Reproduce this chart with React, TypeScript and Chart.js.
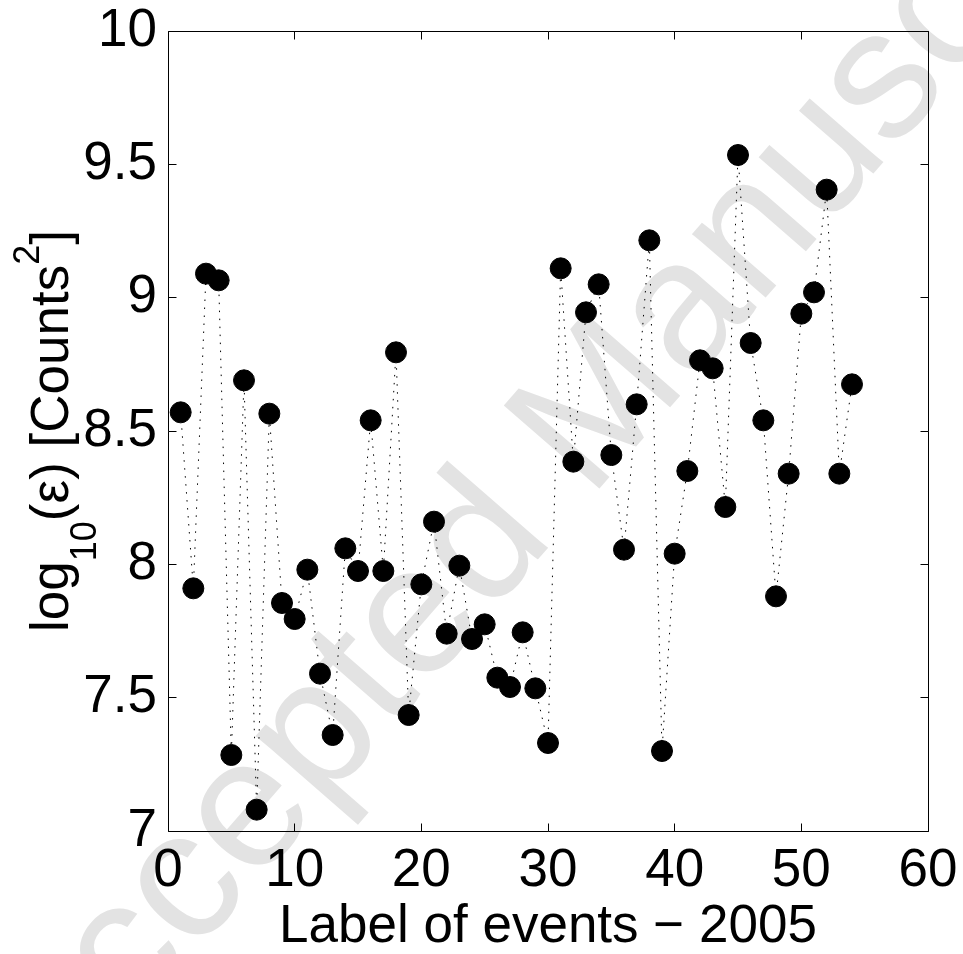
import React, { useEffect, useRef } from 'react';
import { Chart, registerables } from 'chart.js';

Chart.register(...registerables);

const FONT = '"Liberation Sans", Arial, Helvetica, sans-serif';

// Event label (x) and log10(epsilon) (y)
const eventLabel = [
  1, 2, 3, 4, 5, 6, 7, 8, 9, 10,
  11, 12, 13, 14, 15, 16, 17, 18, 19, 20,
  21, 22, 23, 24, 25, 26, 27, 28, 29, 30,
  31, 32, 33, 34, 35, 36, 37, 38, 39, 40,
  41, 42, 43, 44, 45, 46, 47, 48, 49, 50,
  51, 52, 53, 54,
];
const logEpsilon = [
  8.57, 7.91, 9.09, 9.065, 7.285, 8.69, 7.08, 8.565, 7.855, 7.795,
  7.98, 7.59, 7.36, 8.06, 7.975, 8.54, 7.975, 8.795, 7.435, 7.925,
  8.16, 7.74, 7.995, 7.72, 7.775, 7.575, 7.54, 7.745, 7.535, 7.33,
  9.11, 8.385, 8.945, 9.05, 8.41, 8.055, 8.6, 9.215, 7.3, 8.04,
  8.35, 8.765, 8.735, 8.215, 9.535, 8.83, 8.54, 7.88, 8.34, 8.94,
  9.02, 9.405, 8.34, 8.675,
];
const xTickValues = [0, 10, 20, 30, 40, 50, 60];
const yTickValues = [7, 7.5, 8, 8.5, 9, 9.5, 10];
const xTitle = 'Label of events \u2212 2005';
const yTitleParts = [
  { text: 'log', kind: 'main' },
  { text: '10', kind: 'sub' },
  { text: '(\u03b5) [Counts', kind: 'main' },
  { text: '2', kind: 'sup' },
  { text: ']', kind: 'main' },
];
const watermarkText = 'Accepted Manuscript';

const decorPlugin = {
  id: 'decor',
  beforeDraw(chart: any) {
    const { ctx, width, height } = chart;
    ctx.save();
    ctx.fillStyle = '#ffffff';
    ctx.fillRect(0, 0, width, height);
    ctx.translate(578, 436);
    ctx.rotate((-49 * Math.PI) / 180);
    ctx.font = `184px ${FONT}`;
    ctx.fillStyle = '#e3e3e3';
    ctx.textAlign = 'center';
    ctx.textBaseline = 'middle';
    ctx.fillText(watermarkText, 0, 0);
    ctx.restore();
  },
  afterDatasetsDraw(chart: any) {
    const { ctx, chartArea: a, scales } = chart;
    const px = (v: number) => Math.floor(v) + 0.5;
    const L = px(a.left), R = px(a.right), T = px(a.top), B = px(a.bottom);
    ctx.save();
    ctx.strokeStyle = '#000';
    ctx.lineWidth = 1;
    ctx.setLineDash([]);
    ctx.beginPath();
    ctx.rect(L, T, R - L, B - T);
    const tl = 8;
    xTickValues.forEach((v) => {
      const x = px(scales.x.getPixelForValue(v));
      ctx.moveTo(x, B); ctx.lineTo(x, B - tl);
      ctx.moveTo(x, T); ctx.lineTo(x, T + tl);
    });
    yTickValues.forEach((v) => {
      const y = px(scales.y.getPixelForValue(v));
      ctx.moveTo(L, y); ctx.lineTo(L + tl, y);
      ctx.moveTo(R, y); ctx.lineTo(R - tl, y);
    });
    ctx.stroke();
    ctx.restore();
  },
  afterDraw(chart: any) {
    const { ctx, chartArea: a } = chart;
    ctx.save();
    ctx.fillStyle = '#000';
    ctx.font = `53px ${FONT}`;
    ctx.textAlign = 'center';
    ctx.textBaseline = 'alphabetic';
    ctx.fillText(xTitle, (a.left + a.right) / 2, 942);

    const mainFont = `53px ${FONT}`;
    const smallFont = `36px ${FONT}`;
    let total = 0;
    const widths = yTitleParts.map((p) => {
      ctx.font = p.kind === 'main' ? mainFont : smallFont;
      const w = ctx.measureText(p.text).width;
      total += w;
      return w;
    });
    ctx.translate(68, (a.top + a.bottom) / 2);
    ctx.rotate(-Math.PI / 2);
    ctx.textAlign = 'left';
    let u = -total / 2;
    yTitleParts.forEach((p, i) => {
      ctx.font = p.kind === 'main' ? mainFont : smallFont;
      const dy = p.kind === 'sub' ? 28 : p.kind === 'sup' ? -29 : 0;
      ctx.fillText(p.text, u, dy);
      u += widths[i];
    });
    ctx.restore();
  },
};

export default function App() {
  const ref = useRef<HTMLCanvasElement>(null);
  useEffect(() => {
    const canvas = ref.current;
    if (!canvas) return;
    const chart = new Chart(canvas, {
      type: 'scatter',
      data: {
        datasets: [
          {
            data: eventLabel.map((x, i) => ({ x, y: logEpsilon[i] })),
            showLine: true,
            borderColor: '#000',
            borderWidth: 1,
            borderDash: [1.5, 6.5],
            pointRadius: 10.5,
            pointBackgroundColor: '#000',
            pointBorderColor: '#000',
            pointBorderWidth: 1,
            tension: 0,
          },
        ],
      },
      options: {
        responsive: false,
        animation: false,
        devicePixelRatio: 1,
        events: [],
        layout: { padding: { top: 31, right: 35, left: 0, bottom: 0 } },
        plugins: { legend: { display: false }, tooltip: { enabled: false } },
        scales: {
          x: {
            type: 'linear',
            min: 0,
            max: 60,
            afterBuildTicks: (s: any) => {
              s.ticks = xTickValues.map((v) => ({ value: v }));
            },
            afterFit: (s: any) => {
              s.height = 123;
              s.paddingLeft = 0;
              s.paddingRight = 0;
              s.paddingTop = 0;
              s.paddingBottom = 0;
            },
            ticks: {
              font: { family: FONT, size: 53, lineHeight: 1 },
              color: '#000',
              padding: 14,
              maxRotation: 0,
              autoSkip: false,
            },
            grid: { display: false, drawTicks: false },
            border: { display: false },
          },
          y: {
            type: 'linear',
            min: 7,
            max: 10,
            afterBuildTicks: (s: any) => {
              s.ticks = yTickValues.map((v) => ({ value: v }));
            },
            afterFit: (s: any) => {
              s.width = 168;
              s.paddingLeft = 0;
              s.paddingRight = 0;
              s.paddingTop = 0;
              s.paddingBottom = 0;
            },
            ticks: {
              font: { family: FONT, size: 53, lineHeight: 1 },
              color: '#000',
              padding: 11,
              autoSkip: false,
              callback: (v: any) => (Number.isInteger(v) ? String(v) : Number(v).toFixed(1)),
            },
            grid: { display: false, drawTicks: false },
            border: { display: false },
          },
        },
      },
      plugins: [decorPlugin],
    });
    return () => chart.destroy();
  }, []);
  return (
    <div style={{ position: 'fixed', left: 0, top: 0, width: 963, height: 954, background: '#fff' }}>
      <canvas ref={ref} width={963} height={954} style={{ display: 'block', width: 963, height: 954 }} />
    </div>
  );
}
